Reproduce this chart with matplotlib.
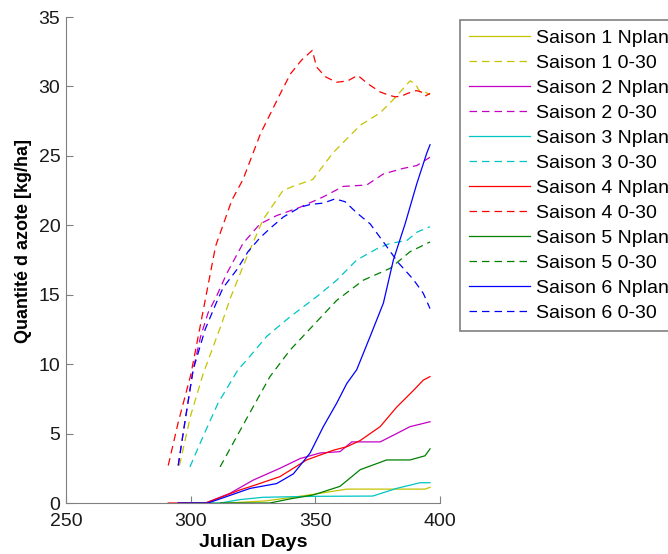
import matplotlib
matplotlib.use("Agg")
import matplotlib.pyplot as plt

plt.rcParams['font.family'] = ['Liberation Sans', 'DejaVu Sans']

# Saison 1
s1_np_x = [296, 315, 330, 342.5, 351.9, 362.6, 380, 394, 396]
s1_np_y = [0, 0, 0.15, 0.45, 0.7, 1.0, 1.0, 1.0, 1.13]
s1_030_x = [295.5, 300, 305, 312.4, 316, 322.5, 329, 337, 341, 349, 357, 368, 376, 381, 385, 388, 390, 392, 394, 396]
s1_030_y = [2.7, 6.3, 9.3, 12.9, 14.8, 17.7, 20.4, 22.5, 22.8, 23.3, 25.2, 27.2, 28.1, 29.0, 29.8, 30.4, 30.2, 29.6, 29.6, 29.4]

# Saison 2
s2_np_x = [295, 306, 315.8, 325.1, 335.8, 343.9, 351.9, 359.9, 364.6, 376, 382.6, 388, 396]
s2_np_y = [0, 0, 0.7, 1.65, 2.5, 3.2, 3.6, 3.7, 4.4, 4.4, 5.0, 5.5, 5.85]
s2_030_x = [295, 298, 301, 304, 307, 310.4, 314.4, 321, 327.8, 334.5, 343.9, 353.2, 361.2, 370.6, 377.3, 385.3, 390.7, 396]
s2_030_y = [2.7, 6.2, 9.6, 12.0, 13.7, 14.9, 16.5, 18.7, 20.1, 20.7, 21.3, 22.05, 22.8, 22.9, 23.7, 24.1, 24.3, 24.9]

# Saison 3
s3_np_x = [300, 312, 320, 329, 340, 350, 373, 382.6, 392, 396]
s3_np_y = [0, 0, 0.25, 0.41, 0.45, 0.48, 0.5, 1.05, 1.46, 1.46]
s3_030_x = [299.7, 305, 311, 319, 322.5, 330.5, 339.8, 350.5, 358.6, 366.6, 374.6, 380, 386.7, 390.7, 396]
s3_030_y = [2.6, 4.8, 7.2, 9.6, 10.3, 12.0, 13.4, 14.85, 16.05, 17.5, 18.3, 18.7, 18.9, 19.5, 19.9]

# Saison 4
s4_np_x = [291, 306, 312, 319.8, 326, 335.8, 346.5, 357.2, 362.6, 368, 376, 382.6, 389.3, 393.3, 396]
s4_np_y = [0, 0, 0.4, 0.94, 1.3, 1.9, 3.1, 3.8, 4.05, 4.5, 5.5, 6.9, 8.1, 8.85, 9.1]
s4_030_x = [291, 295, 300, 304, 310, 316.5, 321, 328, 336, 340, 344.5, 348.8, 350.5, 354, 358.5, 363, 367, 371,
            376, 379, 382, 384.5, 387, 390.5, 392.5, 394, 396]
s4_030_y = [2.7, 5.8, 9.2, 12.9, 18.5, 21.8, 23.3, 26.6, 29.5, 30.9, 31.9, 32.6, 31.4, 30.7, 30.3, 30.4, 30.8, 30.2,
            29.6, 29.4, 29.25, 29.3, 29.5, 29.7, 29.6, 29.3, 29.5]

# Saison 5
s5_np_x = [312, 331.8, 340, 349.2, 359.9, 368, 378.6, 388, 394, 396]
s5_np_y = [0, 0, 0.3, 0.58, 1.2, 2.4, 3.1, 3.1, 3.4, 3.9]
s5_030_x = [311.8, 322.5, 331.8, 339.8, 349.2, 358.6, 369.3, 380, 388, 396]
s5_030_y = [2.6, 6.1, 9.1, 11.0, 12.8, 14.6, 16.05, 16.9, 18.1, 18.8]

# Saison 6
s6_np_x = [295, 307, 315, 323.8, 334.5, 341.2, 347.9, 353.2, 358.6, 362.6, 366.6, 372, 377.3, 381.3, 386, 390.7, 394.7, 396]
s6_np_y = [0, 0, 0.5, 1.05, 1.4, 2.1, 3.6, 5.5, 7.2, 8.6, 9.6, 12.0, 14.4, 17.5, 20.1, 23.0, 25.2, 25.8]
s6_030_x = [295, 298, 301, 305.8, 310, 313, 318.5, 323, 327.8, 332, 337.2, 343.9, 348, 353.2, 357.9, 361.9, 366.6,
            372, 377.3, 383.3, 389.3, 393.3, 396]
s6_030_y = [2.7, 6.2, 9.6, 12.5, 14.3, 15.5, 16.8, 18.1, 19.1, 19.8, 20.6, 21.3, 21.5, 21.6, 21.9, 21.7, 20.9,
            20.1, 18.8, 17.3, 16.1, 15.1, 14.0]

series = [
    ("Saison 1", s1_np_x, s1_np_y, s1_030_x, s1_030_y, '#c4c400'),
    ("Saison 2", s2_np_x, s2_np_y, s2_030_x, s2_030_y, '#c400c4'),
    ("Saison 3", s3_np_x, s3_np_y, s3_030_x, s3_030_y, '#00c4c4'),
    ("Saison 4", s4_np_x, s4_np_y, s4_030_x, s4_030_y, '#ff0000'),
    ("Saison 5", s5_np_x, s5_np_y, s5_030_x, s5_030_y, '#008000'),
    ("Saison 6", s6_np_x, s6_np_y, s6_030_x, s6_030_y, '#0000ff'),
]

fig = plt.figure(figsize=(6.68, 5.54), dpi=100)
ax = fig.add_axes([66 / 668, 51 / 554, 374 / 668, 486 / 554])

for name, nx, ny, dx, dy, col in series:
    ax.plot(nx, ny, color=col, lw=0.9, label=name + " Nplan")
    ax.plot(dx, dy, color=col, lw=0.9, ls=(0, (6, 4)), label=name + " 0-30")

ax.set_xlim(250, 400)
ax.set_ylim(0, 35)
ax.set_xticks([250, 300, 350, 400])
ax.set_yticks(range(0, 36, 5))
for s in ['top', 'right']:
    ax.spines[s].set_visible(False)
for s in ['left', 'bottom']:
    ax.spines[s].set_color('#808080')
ax.tick_params(direction='in', length=5, color='#808080', labelsize=14, labelcolor='#1a1a1a')
ax.tick_params(axis='x', pad=7)
ax.tick_params(axis='y', pad=4)

ax.set_xlabel("Julian Days", fontsize=14, fontweight='bold', labelpad=3)
ax.set_ylabel("Quantité d azote [kg/ha]", fontsize=13, fontweight='bold')
ax.yaxis.set_label_coords(-0.091, 0.54)

# legend runs past the right edge, as in the original figure
leg = ax.legend(loc='upper left', bbox_to_anchor=(460 / 668, 1 - 20 / 554), bbox_transform=fig.transFigure,
                borderaxespad=0, fontsize=14, handlelength=3.1, handletextpad=0.35, labelspacing=0.38,
                borderpad=0.48, fancybox=False, framealpha=1)
leg.get_frame().set_edgecolor('#808080')
leg.get_frame().set_linewidth(1.2)

fig.savefig("out.png", dpi=100)
